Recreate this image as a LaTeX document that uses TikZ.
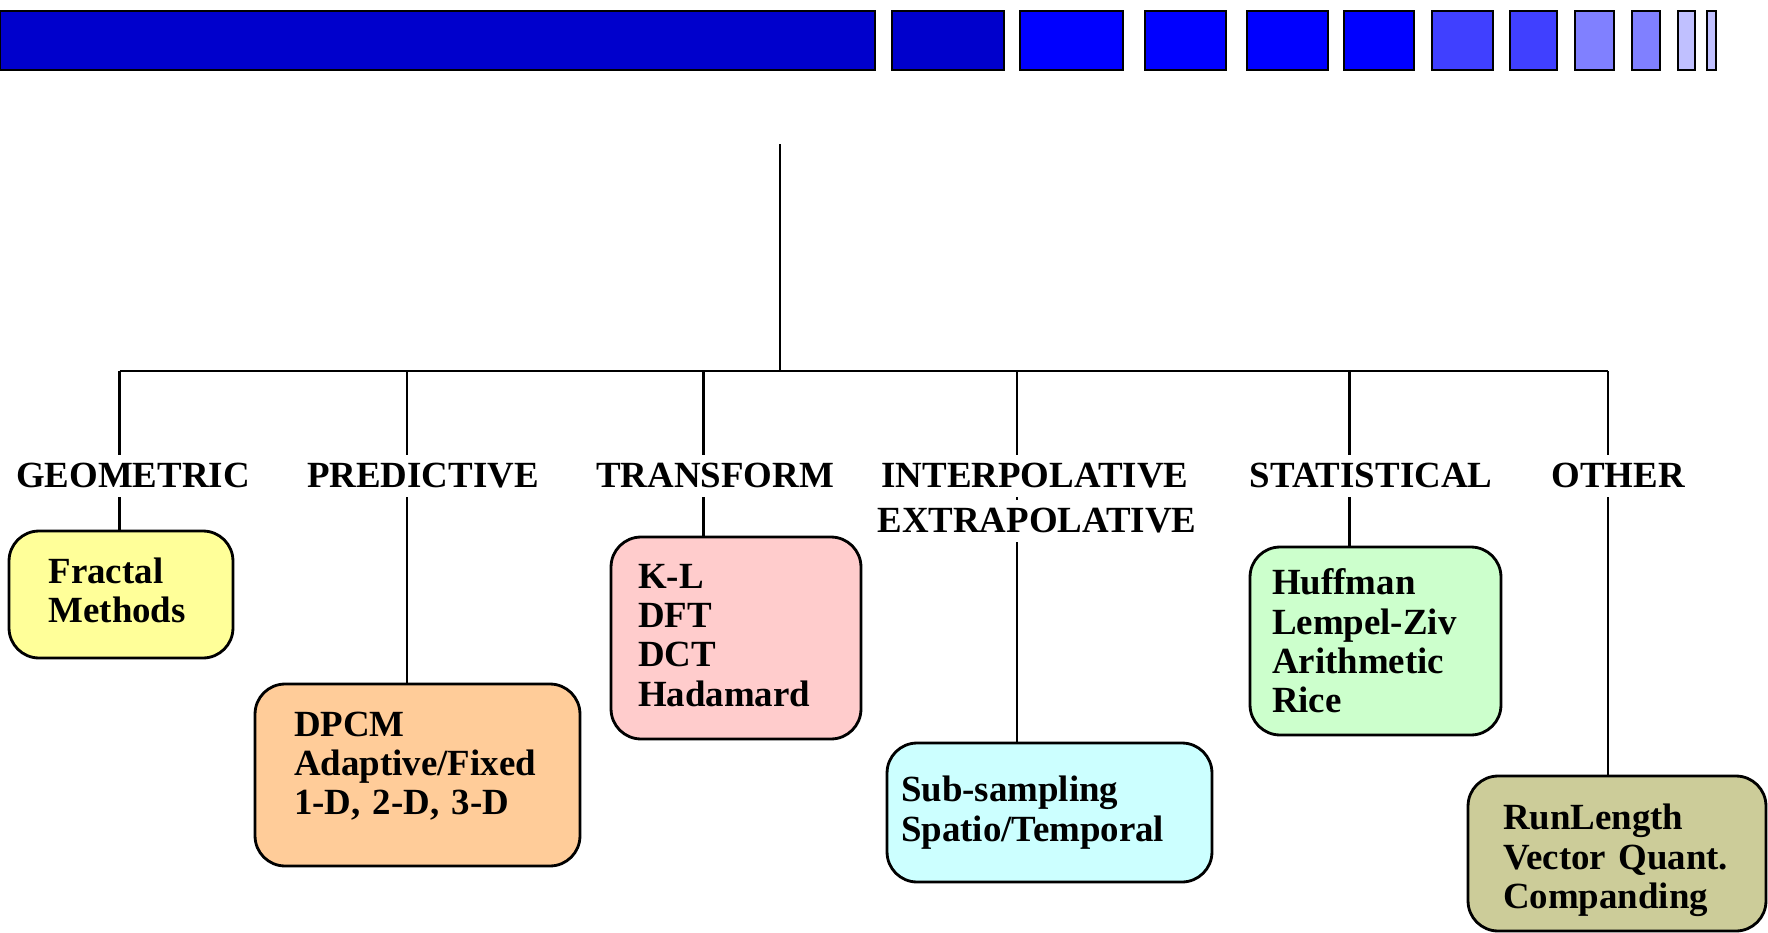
\documentclass[tikz,border=0pt]{standalone}
\usepackage{fontspec}
\setmainfont{Liberation Serif}
\usetikzlibrary{calc}
\definecolor{bardark}{HTML}{0000CC}
\definecolor{barfull}{HTML}{0000FF}
\definecolor{barmid}{HTML}{4040FF}
\definecolor{barlight}{HTML}{8080FF}
\definecolor{barpale}{HTML}{C0C0FF}
\definecolor{fillfractal}{HTML}{FFFF99}
\definecolor{filldpcm}{HTML}{FFCC99}
\definecolor{fillkl}{HTML}{FFCCCC}
\definecolor{fillsub}{HTML}{CCFFFF}
\definecolor{fillhuff}{HTML}{CCFFCC}
\definecolor{fillrun}{HTML}{CCCC99}
\tikzset{
	catlabel/.style={fill=white, font=\fontsize{21}{26}\selectfont\bfseries, inner xsep=2pt, inner ysep=4.5pt, text height=14pt, text depth=1pt, anchor=base},
	methodbox/.style n args={3}{draw, line width=1.6pt, rounded corners=0.6cm, inner sep=0pt, align=left, font=\fontsize{21}{22.4}\selectfont\bfseries, minimum width=#1, minimum height=#2, text width=#3},
	tree/.style={line width=1.5pt},
}

\begin{document}
\begin{tikzpicture}[x=0.02cm, y=-0.02cm]
		%%%%% START %%%%%
		\useasboundingbox (0, 0) rectangle (1768, 933);
		
		% top bar
		\draw[line width=1.4pt, fill=bardark] (0, 11) rectangle (875, 70);
		\foreach \xa/\xb/\col in {892/1004/bardark, 1020/1123/barfull, 1145/1226/barfull, 1247/1328/barfull, 1344/1414/barfull, 1432/1493/barmid, 1510/1557/barmid, 1575/1614/barlight, 1632/1660/barlight, 1678/1695/barpale, 1707/1716/barpale}
			\draw[line width=1.4pt, fill=\col] (\xa, 11) rectangle (\xb, 70);
		
		% boxes
		\node[methodbox={4.48cm}{2.54cm}{2.9cm}, fill=fillfractal] (fractal) at (121, 594.5) {Fractal\\Methods\vspace{5pt}};
		\node[methodbox={6.5cm}{3.64cm}{4.94cm}, fill=filldpcm] (dpcm) at (417.5, 775) {DPCM\\Adaptive/Fixed\\1-D, 2-D, 3-D\vspace{10pt}};
		\node[methodbox={5cm}{4.04cm}{3.92cm}, fill=fillkl] (kl) at (736, 638) {K-L\\DFT\\DCT\\Hadamard\vspace{3pt}};
		\node[methodbox={6.5cm}{2.78cm}{5.94cm}, fill=fillsub] (subsamp) at (1049.5, 812.5) {Sub-sampling\\Spatio/Temporal};
		\node[methodbox={5.02cm}{3.76cm}{4.14cm}, fill=fillhuff] (huff) at (1375.5, 641) {Huffman\\Lempel-Ziv\\Arithmetic\\Rice};
		\node[methodbox={5.96cm}{3.1cm}{4.56cm}, fill=fillrun] (runlen) at (1617, 853.5) {\rule{0pt}{22.5pt}RunLength\\Vector Quant.\\Companding};
		
		% tree
		\coordinate (top) at (780, 144);
		\coordinate (b1) at (119.5, 371);
		\coordinate (b2) at (407, 371);
		\coordinate (b3) at (703.5, 371);
		\coordinate (b4) at (1017, 371);
		\coordinate (b5) at (1349.5, 371);
		\coordinate (b6) at (1608, 371);
		\draw[tree] (top) -- (top |- b1);
		\draw[tree] (b1) -- (b6);
		\draw[tree] (b1) -- (b1 |- fractal.north);
		\draw[tree] (b2) -- (b2 |- dpcm.north);
		\draw[tree] (b3) -- (b3 |- kl.north);
		\draw[tree] (b4) -- (b4 |- subsamp.north);
		\draw[tree] (b5) -- (b5 |- huff.north);
		\draw[tree] (b6) -- (b6 |- runlen.north);
		
		% labels
		\node[catlabel] (geo) at (133, 487) {GEOMETRIC};
		\node[catlabel] (pred) at (423, 487) {PREDICTIVE};
		\node[catlabel] (trans) at (715, 487) {TRANSFORM};
		\node[catlabel] (interp) at (1035, 487) {INTERPOLATIVE};
		\node[catlabel] (extrap) at (1037, 532) {EXTRAPOLATIVE};
		\node[catlabel] (stat) at (1371, 487) {STATISTICAL};
		\node[catlabel] (other) at (1618, 487) {OTHER};
		
		%%%%% END %%%%%
	\end{tikzpicture}
\end{document}
